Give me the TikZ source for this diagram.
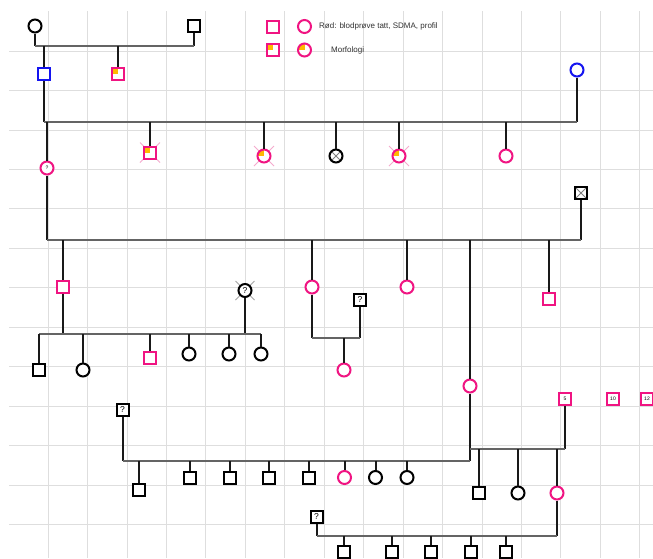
\documentclass[tikz,border=0pt]{standalone}
\usepackage{fontspec}
\setmainfont{Liberation Sans}
\usetikzlibrary{backgrounds}
\definecolor{pinkc}{RGB}{240,20,130}
\definecolor{bluec}{RGB}{20,20,240}
\definecolor{orangec}{RGB}{255,185,0}
\definecolor{sibc}{RGB}{100,100,100}
\definecolor{gridc}{RGB}{222,222,222}
\definecolor{deadc}{RGB}{245,170,205}
\definecolor{textc}{RGB}{50,50,50}

\begin{document}
\begin{tikzpicture}[
  x=1pt, y=-1pt,
  font=\fontsize{8.5}{9}\selectfont,
  sym/.style={draw, line width=2pt, fill=white, inner sep=0pt},
  male/.style={sym, rectangle, minimum size=12pt},
  female/.style={sym, circle, minimum size=13pt},
  blod/.style={draw=pinkc},
  aff/.style={draw=bluec},
  morf/.style={path picture={\fill[orangec] (path picture bounding box.center)
    rectangle (path picture bounding box.north west);}},
  xin/.style={path picture={\draw[gray, line width=0.8pt]
    (path picture bounding box.north west) -- (path picture bounding box.south east)
    (path picture bounding box.north east) -- (path picture bounding box.south west);}},
  tinyfont/.style={font=\fontsize{5}{5}\selectfont},
  legend/.style={anchor=west, text=textc, font=\fontsize{8}{9}\selectfont, inner sep=0pt},
  stem/.style={line width=2pt, black!90},
  sib/.style={line width=2pt, sibc},
  deadx/.style={line width=0.8pt, deadc},
  gridline/.style={line width=0.8pt, gridc},
]
\useasboundingbox (0,0) rectangle (653,558);
\clip (0,0) rectangle (653,558);

% grid
\begin{pgfonlayer}{background}
  \fill[white] (0,0) rectangle (653,558);
  \foreach \i in {0,...,15}
    \draw[gridline] ({48+39.45*\i},11) -- ({48+39.45*\i},558);
  \foreach \j in {0,...,12}
    \draw[gridline] (9,{51+39.45*\j}) -- (653,{51+39.45*\j});
\end{pgfonlayer}

% ---- legend ----
\node[male, blod] (lm1) at (272.5,26.5) {};
\node[female, blod] (lf1) at (304.5,26.5) {};
\node[legend] (lt1) at (319,26.5) {Rød: blodprøve tatt, SDMA, profil};
\node[male, blod, morf] (lm2) at (272.5,50) {};
\node[female, blod, morf] (lf2) at (304.5,50) {};
\node[legend] (lt2) at (331,50) {Morfologi};

% ---- generation I ----
\node[female] (i1) at (35,26) {};
\node[male] (i2) at (194,26) {};
\coordinate (u1) at (0,46);
\draw[stem] (i1) -- (i1 |- u1);
\draw[stem] (i2) -- (i2 |- u1);
\draw[sib] (i1 |- u1) -- (i2 |- u1);

% ---- generation II ----
\node[male, aff] (ii1) at (43.5,74) {};
\node[male, blod, morf] (ii2) at (118,74) {};
\node[female, aff] (ii3) at (577,70) {};
\draw[stem] (ii1) -- (ii1 |- u1);
\draw[stem] (ii2) -- (ii2 |- u1);
\coordinate (u2) at (0,122);
\draw[stem] (ii1) -- (ii1 |- u2);
\draw[stem] (ii3) -- (ii3 |- u2);
\draw[sib] (ii1 |- u2) -- (ii3 |- u2);

% ---- generation III ----
\node[female, blod, tinyfont] (iii1) at (47,168) {?};
\node[male, blod, morf] (iii2) at (150,152.5) {};
\node[female, blod, morf] (iii3) at (264,156) {};
\node[female, xin] (iii4) at (336,156) {};
\node[female, blod, morf] (iii5) at (399,156) {};
\node[female, blod] (iii6) at (506,156) {};
\foreach \n in {iii1,iii2,iii3,iii4,iii5,iii6}
  \draw[stem] (\n) -- (\n |- u2);
\node[male, xin] (iii7) at (581,193) {};
\coordinate (u3) at (0,240);
\draw[stem] (iii1) -- (iii1 |- u3);
\draw[stem] (iii7) -- (iii7 |- u3);
\draw[sib] (iii1 |- u3) -- (iii7 |- u3);

% ---- generation IV ----
\node[male, blod] (iv1) at (63,287) {};
\node[female, blod] (iv2) at (312,287) {};
\node[female, blod] (iv3) at (407,287) {};
\node[female, blod] (iv4) at (470,386) {};
\node[male, blod] (iv5) at (549,299) {};
\foreach \n in {iv1,iv2,iv3,iv4,iv5}
  \draw[stem] (\n) -- (\n |- u3);

% iv1 x iv6
\node[female] (iv6) at (245,290.5) {?};
\coordinate (u4) at (0,334);
\node[male] (v1) at (39,370) {};
\node[female] (v2) at (83,370) {};
\node[male, blod] (v3) at (150,358) {};
\node[female] (v4) at (189,354) {};
\node[female] (v5) at (229,354) {};
\node[female] (v6) at (261,354) {};
\draw[stem] (iv1) -- (iv1 |- u4);
\draw[stem] (iv6) -- (iv6 |- u4);
\draw[sib] (v1 |- u4) -- (v6 |- u4);
\foreach \n in {v1,v2,v3,v4,v5,v6}
  \draw[stem] (\n) -- (\n |- u4);

% iv2 x iv7
\node[male] (iv7) at (360,299.5) {?};
\node[female, blod] (v7) at (344,370) {};
\coordinate (u5) at (0,338);
\draw[stem] (iv2) -- (iv2 |- u5);
\draw[stem] (iv7) -- (iv7 |- u5);
\draw[sib] (iv2 |- u5) -- (iv7 |- u5);
\draw[stem] (v7) -- (v7 |- u5);

% iv4 x iv8
\node[male] (iv8) at (122.5,410) {?};
\coordinate (u6) at (0,461);
\node[male] (v8) at (139,489.5) {};
\node[male] (v9) at (190,477.5) {};
\node[male] (v10) at (229.5,477.5) {};
\node[male] (v11) at (269,477.5) {};
\node[male] (v12) at (309,477.5) {};
\node[female, blod] (v13) at (344.5,477.5) {};
\node[female] (v14) at (375.5,477.5) {};
\node[female] (v15) at (407,477.5) {};
\draw[stem] (iv8) -- (iv8 |- u6);
\draw[stem] (iv4) -- (iv4 |- u6);
\draw[sib] (iv8 |- u6) -- (iv4 |- u6);
\foreach \n in {v8,v9,v10,v11,v12,v13,v14,v15}
  \draw[stem] (\n) -- (\n |- u6);

% iv4 x iv9
\node[male, blod, tinyfont] (iv9) at (565,398.5) {5};
\node[male, blod, tinyfont] (n10) at (613,398.5) {10};
\node[male, blod, tinyfont] (n12) at (647,398.5) {12};
\coordinate (u7) at (0,449);
\node[male] (v16) at (479,493) {};
\node[female] (v17) at (518,493) {};
\node[female, blod] (v18) at (557,493) {};
\draw[stem] (iv9) -- (iv9 |- u7);
\draw[sib] (iv4 |- u7) -- (iv9 |- u7);
\foreach \n in {v16,v17,v18}
  \draw[stem] (\n) -- (\n |- u7);

% v18 x vi0
\node[male] (vi0) at (316.5,516.7) {?};
\coordinate (u8) at (0,536);
\node[male] (vi1) at (344,551.5) {};
\node[male] (vi2) at (391.5,551.5) {};
\node[male] (vi3) at (430.5,551.5) {};
\node[male] (vi4) at (470.5,551.5) {};
\node[male] (vi5) at (506,551.5) {};
\draw[stem] (vi0) -- (vi0 |- u8);
\draw[stem] (v18) -- (v18 |- u8);
\draw[sib] (vi0 |- u8) -- (v18 |- u8);
\foreach \n in {vi1,vi2,vi3,vi4,vi5}
  \draw[stem] (\n) -- (\n |- u8);

% deceased marks
\begin{pgfonlayer}{background}
  \foreach \n in {iii2,iii3,iii5}
    \draw[deadx] ([shift={(-10,-10)}]\n.center) -- ([shift={(10,10)}]\n.center)
                 ([shift={(10,-10)}]\n.center) -- ([shift={(-10,10)}]\n.center);
  \draw[deadx, gray!70] ([shift={(-9.5,-9.5)}]iv6.center) -- ([shift={(9.5,9.5)}]iv6.center)
               ([shift={(9.5,-9.5)}]iv6.center) -- ([shift={(-9.5,9.5)}]iv6.center);
\end{pgfonlayer}

\end{tikzpicture}
\end{document}
